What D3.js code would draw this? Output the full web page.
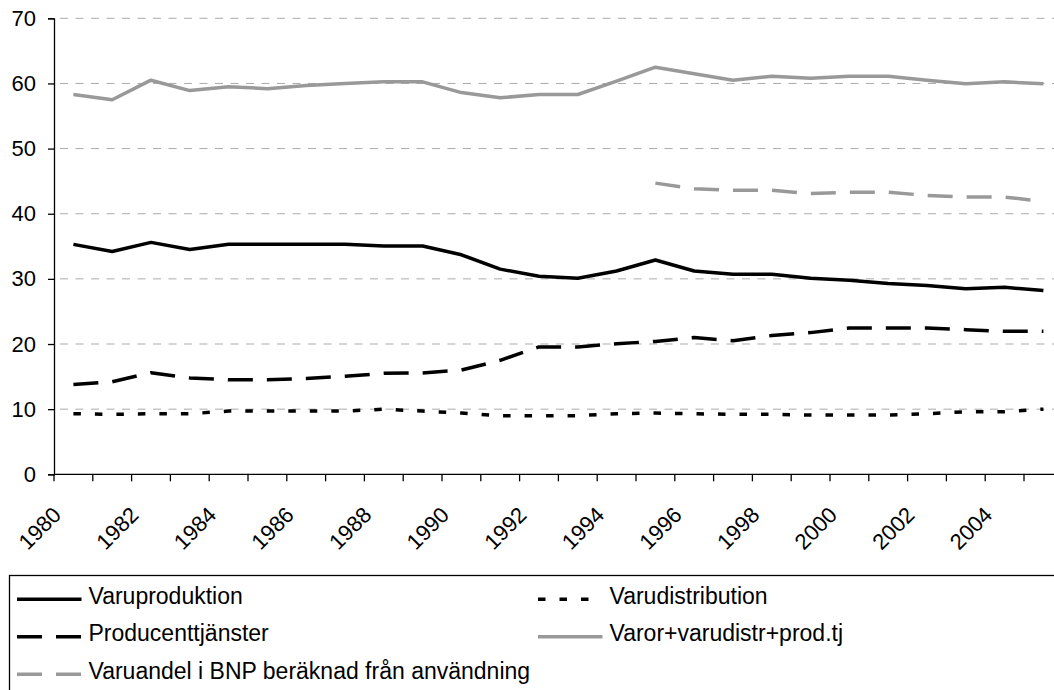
<!DOCTYPE html>
<html>
<head>
<meta charset="utf-8">
<script src="https://cdn.jsdelivr.net/npm/d3@7"></script>
<style>
  body { margin: 0; background: #fff; }
  svg { display: block; font-family: "Liberation Sans", Arial, sans-serif; }
</style>
</head>
<body>
<svg id="chart" width="1054" height="690"></svg>
<script>
// Years on the category axis
const years = [1980, 1981, 1982, 1983, 1984, 1985, 1986, 1987, 1988, 1989,
               1990, 1991, 1992, 1993, 1994, 1995, 1996, 1997, 1998, 1999,
               2000, 2001, 2002, 2003, 2004, 2005];
// Labelled years (every second category)
const yearLabels = [1980, 1982, 1984, 1986, 1988, 1990, 1992, 1994, 1996, 1998, 2000, 2002, 2004];
const yTicks = [0, 10, 20, 30, 40, 50, 60, 70];

// Shares in percent
const varuproduktion = [35.3, 34.2, 35.6, 34.5, 35.3, 35.3, 35.3, 35.3, 35.05, 35.05,
                        33.7, 31.5, 30.4, 30.1, 31.2, 32.9, 31.2, 30.7, 30.7, 30.1,
                        29.8, 29.3, 29.0, 28.5, 28.7, 28.2];
const varudistribution = [9.3, 9.2, 9.3, 9.3, 9.7, 9.7, 9.7, 9.7, 10.0, 9.7,
                          9.4, 9.0, 9.0, 9.0, 9.3, 9.4, 9.3, 9.2, 9.2, 9.1,
                          9.1, 9.1, 9.3, 9.6, 9.6, 10.0];
const producenttjanster = [13.8, 14.2, 15.6, 14.8, 14.5, 14.5, 14.7, 15.05, 15.5, 15.55,
                           16.0, 17.5, 19.55, 19.55, 20.05, 20.4, 21.0, 20.5, 21.3, 21.75,
                           22.45, 22.45, 22.45, 22.2, 21.95, 21.95];
const varorTotal = [58.3, 57.5, 60.5, 58.9, 59.5, 59.2, 59.7, 60.0, 60.25, 60.25,
                    58.6, 57.8, 58.3, 58.3, 60.35, 62.5, 61.5, 60.5, 61.1, 60.8,
                    61.1, 61.1, 60.5, 59.95, 60.25, 59.95];
const varuandel = [null, null, null, null, null, null, null, null, null, null,
                   null, null, null, null, null, 44.7, 43.85, 43.6, 43.6, 43.1,
                   43.3, 43.3, 42.8, 42.55, 42.55, 41.9];

const seriesNames = ["Varuproduktion", "Varudistribution", "Producenttjänster",
                     "Varor+varudistr+prod.tj", "Varuandel i BNP beräknad från användning"];

const series = [
  { name: seriesNames[0], values: varuproduktion,    color: "#000",    width: 3.5, dash: null },
  { name: seriesNames[1], values: varudistribution,  color: "#000",    width: 3.5, dash: "7.5,14" },
  { name: seriesNames[2], values: producenttjanster, color: "#000",    width: 3.5, dash: "25,14" },
  { name: seriesNames[3], values: varorTotal,        color: "#999999", width: 3.5, dash: null },
  { name: seriesNames[4], values: varuandel,         color: "#999999", width: 3.5, dash: "25,14" }
];

const svg = d3.select("#chart");
const plot = { left: 54, top: 18.3, bottom: 474.3, right: 1062.8 };

const x = d3.scaleBand().domain(years).range([plot.left, plot.right]).padding(0);
const cx = d => x(d) + x.bandwidth() / 2;
const y = d3.scaleLinear().domain([0, 70]).range([plot.bottom, plot.top]);

// Horizontal gridlines
svg.append("g")
  .selectAll("line")
  .data(yTicks.filter(t => t > 0))
  .join("line")
  .attr("x1", plot.left).attr("x2", 1054)
  .attr("y1", d => y(d)).attr("y2", d => y(d))
  .attr("stroke", "#ababab")
  .attr("stroke-width", 1)
  .attr("stroke-dasharray", "8,7.5")
  .attr("stroke-dashoffset", 9.5);

// Y axis
const yAxis = svg.append("g")
  .attr("transform", `translate(${plot.left},0)`)
  .call(d3.axisLeft(y).tickValues(yTicks).tickSize(6).tickPadding(12).tickFormat(d3.format("d")));
yAxis.select(".domain").attr("stroke", "#000").attr("stroke-width", 1.3);
yAxis.selectAll(".tick line").attr("stroke", "#000").attr("stroke-width", 1.3);
yAxis.selectAll(".tick text").attr("font-size", 22).attr("fill", "#000")
  .attr("font-family", "Liberation Sans, Arial, sans-serif");

// X axis line and tick marks at category boundaries
const xAxis = svg.append("g");
xAxis.append("line")
  .attr("x1", plot.left).attr("x2", 1054)
  .attr("y1", plot.bottom).attr("y2", plot.bottom)
  .attr("stroke", "#000").attr("stroke-width", 1.3);
xAxis.selectAll("line.tick")
  .data(years.concat([null]))
  .join("line")
  .attr("class", "tick")
  .attr("x1", (d, i) => plot.left + i * x.bandwidth())
  .attr("x2", (d, i) => plot.left + i * x.bandwidth())
  .attr("y1", plot.bottom).attr("y2", plot.bottom + 7)
  .attr("stroke", "#000").attr("stroke-width", 1.3);

// Rotated year labels
xAxis.selectAll("text")
  .data(yearLabels)
  .join("text")
  .attr("transform", d => `translate(${cx(d) - 11},${plot.bottom + 42}) rotate(-45)`)
  .attr("text-anchor", "end")
  .attr("font-size", 22)
  .attr("fill", "#000")
  .text(d => d);

// Series lines
const line = d3.line()
  .defined(d => d.v != null)
  .x(d => cx(d.year))
  .y(d => y(d.v));

svg.append("g")
  .selectAll("path")
  .data(series)
  .join("path")
  .attr("d", s => line(s.values.map((v, i) => ({ year: years[i], v }))))
  .attr("fill", "none")
  .attr("stroke", s => s.color)
  .attr("stroke-width", s => s.width)
  .attr("stroke-linejoin", "round")
  .attr("stroke-dasharray", s => s.dash);

// Legend box
const legend = svg.append("g");
legend.append("rect")
  .attr("x", 9.5).attr("y", 575.5)
  .attr("width", 1100).attr("height", 200)
  .attr("fill", "none").attr("stroke", "#000").attr("stroke-width", 1.3);

const legendCols = [17, 538];
const legendRows = [599.3, 636.8, 674.3];
const legendPos = [[0, 0], [1, 0], [0, 1], [1, 1], [0, 2]];

const items = legend.selectAll("g.item")
  .data(series)
  .join("g")
  .attr("class", "item")
  .attr("transform", (s, i) => `translate(${legendCols[legendPos[i][0]]},${legendRows[legendPos[i][1]]})`);

items.append("line")
  .attr("x1", 0).attr("x2", 64.5)
  .attr("y1", 0).attr("y2", 0)
  .attr("stroke", s => s.color)
  .attr("stroke-width", s => s.width)
  .attr("stroke-dasharray", s => s.dash);

items.append("text")
  .attr("x", 71.5).attr("y", 4.2)
  .attr("font-size", 23)
  .attr("fill", "#000")
  .text(s => s.name);
</script>
</body>
</html>
